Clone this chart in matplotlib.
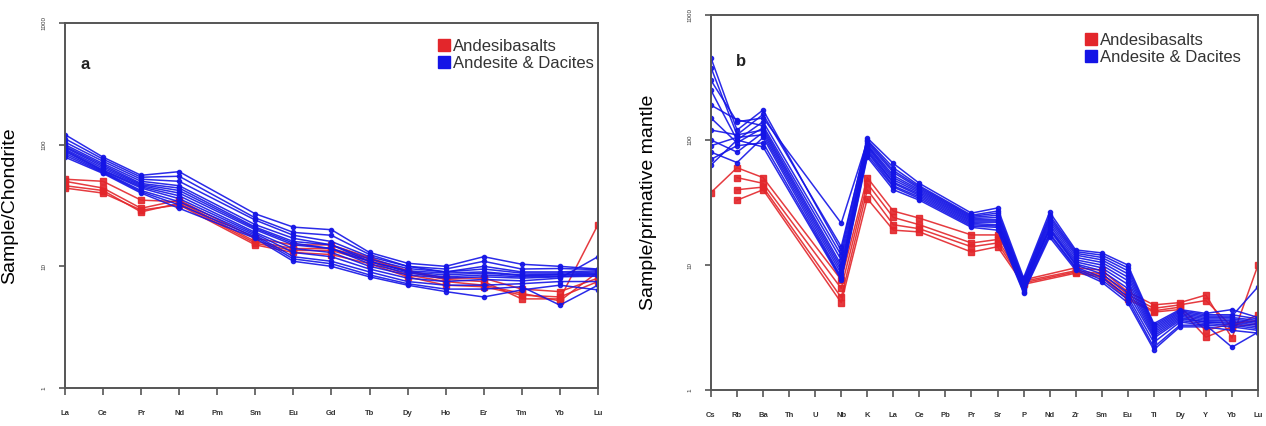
import numpy as np
import matplotlib
matplotlib.use("Agg")
import matplotlib.pyplot as plt
from matplotlib.lines import Line2D

plt.rcParams['font.family'] = ['Liberation Sans', 'DejaVu Sans']

nan = np.nan

# ---- panel a: chondrite-normalised REE ----
REE = ["La", "Ce", "Pr", "Nd", "Pm", "Sm", "Eu", "Gd", "Tb", "Dy", "Ho", "Er", "Tm", "Yb", "Lu"]

ree_red = [
    [52, 50, 35, 34, nan, 16, 14, 14, 11.5, 9.0, 7.8, 7.5, 5.4, 5.4, 22],
    [46, 42, 28, 33, nan, 15.5, 13.5, 13.5, 11, 8.5, 7.5, 7.0, 6.0, 5.2, 9.0],
    [50, 44, 30, 35, nan, 17, 15, 15, 11.8, 9.2, 8.0, 8.0, 6.5, 6.2, 8.0],
    [44, 40, 29, 32, nan, 15, 13, 12.5, 10.5, 8.2, 7.0, 6.8, 5.8, 5.6, 7.5],
]

ree_blue = [
    [121, 79, 56, 60, nan, 27, 21, 20, 13, 10.6, 10, 12, 10.4, 10, 9.5],
    [112, 76, 54, 55, nan, 25, 19, 18, 12.5, 10, 9.5, 11, 9.5, 9.6, 9.4],
    [105, 73, 52, 50, nan, 24, 18, 16, 12, 10, 9, 10, 9, 9, 9.2],
    [100, 70, 50, 46, nan, 22, 17, 15, 11.5, 9.6, 9, 9.5, 8.8, 8.8, 9],
    [97, 68, 48, 44, nan, 21, 16, 15, 11, 9.2, 8.8, 9, 8.5, 8.6, 8.8],
    [95, 66, 47, 42, nan, 20.5, 15.5, 14, 11, 9, 8.5, 8.8, 8.4, 8.5, 8.6],
    [92, 64, 46, 40, nan, 20, 15, 14, 10.5, 8.8, 8.2, 8.5, 8.2, 8.3, 8.5],
    [90, 62, 45, 38, nan, 19, 14, 13, 10, 8.5, 8, 8.2, 8, 8.2, 8.3],
    [88, 61, 44, 36, nan, 18.5, 13, 12, 9.5, 8, 7.5, 7.8, 7.6, 8, 12],
    [85, 60, 42, 34, nan, 18, 12, 11, 9, 7.5, 7, 7, 7.2, 7.5, 7.5],
    [82, 59, 41, 32, nan, 17.5, 11.5, 10.5, 8.5, 7.2, 6.5, 6.5, 6.8, 4.8, 7],
    [79, 58, 40, 30, nan, 17, 11, 10, 8.2, 7, 6.2, 5.6, 6.4, 7, 6.4],
]

# ---- panel b: primitive-mantle-normalised spider ----
SPIDER = ["Cs", "Rb", "Ba", "Th", "U", "Nb", "K", "La", "Ce", "Pb", "Pr",
          "Sr", "P", "Nd", "Zr", "Sm", "Eu", "Ti", "Dy", "Y", "Yb", "Lu"]

sp_red = [
    [38, 60, 50, nan, nan, 7.6, 50, 27, 23.7, nan, 17.4, 17.4, 7.6, nan, 9.5, 9.1, 6.1, 4.8, 5.0, 5.75, 2.6, 10],
    [nan, 50, 45, nan, nan, 6.5, 45, 24, 21, nan, 15, 16, 7.4, nan, 9.0, 8.5, 5.8, 4.5, 4.8, 5.2, 3.2, 4.0],
    [nan, 40, 42, nan, nan, 5.5, 40, 21, 19.5, nan, 14, 15, 7.2, nan, 8.8, 8.2, 5.5, 4.3, 4.6, 3.0, 3.4, 3.6],
    [nan, 33, 40, nan, nan, 5.0, 34, 19, 18.4, nan, 12.7, 14, 7.0, nan, 8.6, 8.0, 5.3, 4.2, 4.4, 2.65, 3.2, 3.4],
]

sp_blue = [
    [453, 120, 174, nan, nan, 13, 104, 65, 45, nan, 26, 28.6, 7.9, 26.5, 13.2, 12.5, 10, 3.4, 4.4, 4.1, 4.4, 3.8],
    [380, 110, 160, nan, nan, 14, 100, 60, 43, nan, 25, 27, 7.6, 25, 12.8, 12, 9.5, 3.3, 4.3, 4.0, 4.0, 3.7],
    [300, 140, 150, nan, nan, 21.6, 98, 57, 42, nan, 24.5, 26, 7.4, 24, 12.4, 11.5, 9, 3.2, 4.2, 3.9, 3.9, 6.7],
    [250, 100, 140, nan, nan, 12, 95, 55, 41, nan, 24, 25, 7.2, 23, 12, 11, 8.5, 3.1, 4.1, 3.8, 3.8, 3.6],
    [190, 145, 130, nan, nan, 11, 92, 52, 40, nan, 23.5, 24, 7.0, 22, 11.5, 10.5, 8, 3.0, 4.0, 3.7, 3.7, 3.5],
    [150, 95, 125, nan, nan, 10, 90, 50, 39, nan, 23, 23, 6.9, 21, 11, 10, 7.5, 2.9, 3.9, 3.6, 3.6, 3.4],
    [120, 110, 120, nan, nan, 9.5, 88, 48, 38, nan, 22.5, 22.5, 6.8, 20, 10.6, 9.5, 7, 2.8, 3.8, 3.5, 3.5, 3.3],
    [100, 80, 115, nan, nan, 9, 85, 46, 37, nan, 22, 22, 6.6, 19.5, 10.2, 9, 6.5, 2.7, 3.7, 3.5, 3.4, 3.2],
    [90, 105, 110, nan, nan, 8.5, 82, 45, 36, nan, 21.5, 21, 6.5, 19, 10, 8.5, 6, 2.6, 3.6, 3.4, 3.3, 3.1],
    [80, 66, 105, nan, nan, 8, 80, 43, 35, nan, 21, 20.5, 6.3, 18, 9.6, 8, 5.6, 2.4, 3.5, 3.3, 3.2, 3.0],
    [70, 90, 95, nan, nan, 7.8, 76, 42, 34, nan, 20.5, 20, 6.1, 17.5, 9.4, 7.6, 5.3, 2.2, 3.3, 3.3, 2.2, 2.9],
    [63, 100, 88, nan, nan, 7.6, 73, 40, 33, nan, 20, 19, 6.0, 16.7, 9.1, 7.3, 5.0, 2.1, 3.2, 3.2, 3.0, 2.85],
]

RED = "#e3262b"
BLUE = "#1414e6"
GRID = "#555555"


def draw_series(ax, rows, color, marker, ms):
    for row in rows:
        y = np.array(row, dtype=float)
        x = np.arange(len(y))
        m = ~np.isnan(y)
        ax.plot(x[m], y[m], color=color, lw=1.1, marker=marker, ms=ms,
                mec=color, mfc=color, alpha=0.9)


def style_axes(ax, labels, ylabel, ylab_x, letter, letter_xy, leg_xy):
    ax.set_yscale("log")
    ax.set_ylim(1, 1000)
    ax.set_xlim(0, len(labels) - 1)
    ax.set_xticks(range(len(labels)))
    ax.set_xticklabels(labels, fontsize=5.5, fontweight="bold", color="#333333")
    ax.set_yticks([1, 10, 100, 1000])
    ax.set_yticklabels(["1", "10", "100", "1000"], fontsize=4.5, rotation=90,
                       va="center", color="#333333")
    ax.yaxis.set_minor_locator(matplotlib.ticker.NullLocator())
    ax.tick_params(axis="x", direction="out", length=5, width=1.2, pad=11, color=GRID)
    ax.tick_params(axis="y", direction="out", length=4, width=1.2, pad=9, color=GRID)
    for s in ax.spines.values():
        s.set_color(GRID)
        s.set_linewidth(1.4)
    ax.set_ylabel(ylabel, fontsize=14)
    ax.yaxis.set_label_coords(ylab_x, 0.5)
    ax.text(letter_xy[0], letter_xy[1], letter, transform=ax.transAxes,
            fontsize=12, fontweight="bold", color="#222222", va="center")
    handles = [
        Line2D([], [], ls="none", marker="s", ms=8, color=RED, label="Andesibasalts"),
        Line2D([], [], ls="none", marker="s", ms=8, color=BLUE, label="Andesite & Dacites"),
    ]
    ax.legend(handles=handles, loc="upper left", bbox_to_anchor=leg_xy,
              frameon=False, fontsize=12, handlelength=0.5, handletextpad=0.3,
              labelspacing=0.12, borderaxespad=0, labelcolor="#333333")


fig = plt.figure(figsize=(12.66, 4.26), dpi=100)
ax_a = fig.add_axes([0.0513, 0.0892, 0.4210, 0.8568])
ax_b = fig.add_axes([0.5616, 0.0845, 0.4321, 0.8803])

draw_series(ax_a, ree_red, RED, "s", 4.5)
draw_series(ax_a, ree_blue, BLUE, "o", 3)
style_axes(ax_a, REE, "Sample/Chondrite", -0.088, "a", (0.03, 0.885), (0.69, 0.975))

draw_series(ax_b, sp_red, RED, "s", 4.5)
draw_series(ax_b, sp_blue, BLUE, "o", 3)
style_axes(ax_b, SPIDER, "Sample/primative mantle", -0.099, "b", (0.045, 0.875), (0.675, 0.97))

fig.savefig("out.png", dpi=100)
